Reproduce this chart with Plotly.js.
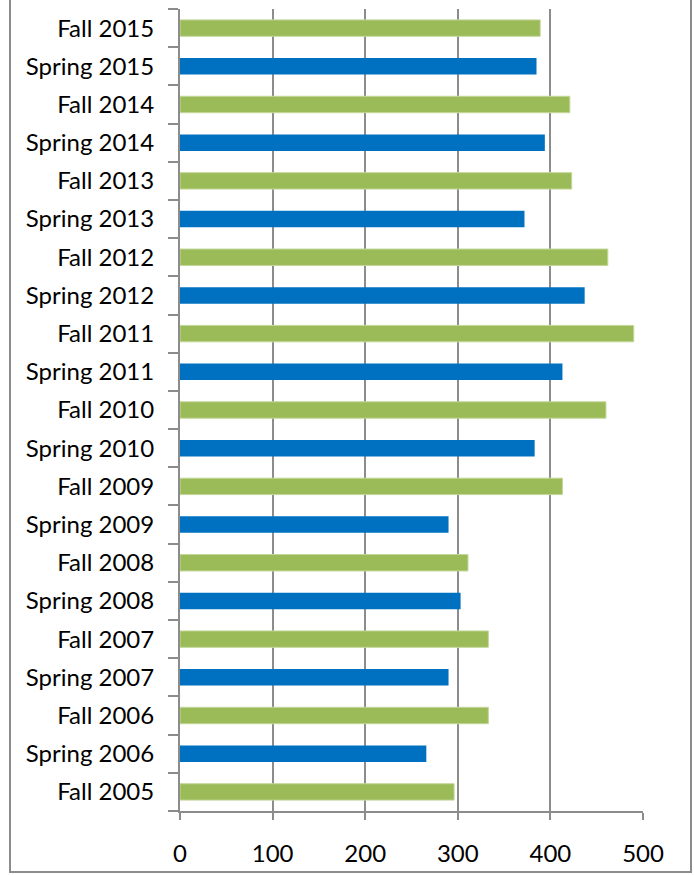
<!DOCTYPE html>
<html>
<head>
<meta charset="utf-8">
<script src="https://cdn.plot.ly/plotly-3.0.1.min.js"></script>
<style>
  html, body { margin: 0; padding: 0; background: #fff; }
  #wrap { position: relative; width: 694px; height: 875px; }
  #chart { position: absolute; left: 0; top: 0; width: 694px; height: 875px; }
  #frame { position: absolute; left: 9px; top: -2px; width: 683px; height: 875px;
           border-left: 2px solid #8c8c8c; border-right: 2px solid #8c8c8c; border-bottom: 2px solid #8c8c8c;
           box-sizing: border-box; pointer-events: none; }
</style>
</head>
<body>
<div id="wrap">
  <div id="chart"></div>
  <div id="frame"></div>
</div>
<script>
// Terms listed from bottom (oldest) to top (newest)
const terms = ["Fall 2005","Spring 2006","Fall 2006","Spring 2007","Fall 2007","Spring 2008",
  "Fall 2008","Spring 2009","Fall 2009","Spring 2010","Fall 2010","Spring 2011","Fall 2011",
  "Spring 2012","Fall 2012","Spring 2013","Fall 2013","Spring 2014","Fall 2014","Spring 2015","Fall 2015"];
const values = [296, 266, 333, 290, 333, 303, 311, 290, 413, 383, 460, 413, 490,
  437, 462, 372, 423, 394, 421, 385, 389];
const xTicks = [0, 100, 200, 300, 400, 500];

const fallColor = "#9BBB59";
const springColor = "#0070C0";

const fallY = [], fallX = [], springY = [], springX = [];
terms.forEach((t, i) => {
  if (t.startsWith("Fall")) { fallY.push(t); fallX.push(values[i]); }
  else { springY.push(t); springX.push(values[i]); }
});

const traces = [
  { type: "bar", orientation: "h", name: "Fall", y: fallY, x: fallX,
    marker: { color: fallColor, line: { color: "#c4d79b", width: 1 } }, hoverinfo: "x+y" },
  { type: "bar", orientation: "h", name: "Spring", y: springY, x: springX,
    marker: { color: springColor, line: { width: 0 } }, hoverinfo: "x+y" }
];

const font = { family: "Lato, 'Open Sans', sans-serif", size: 24, color: "#000" };

const layout = {
  width: 694, height: 875,
  margin: { l: 180, r: 51, t: 9, b: 64, pad: 0 },
  paper_bgcolor: "#fff", plot_bgcolor: "#fff",
  showlegend: false,
  barmode: "overlay",
  bargap: 0.57,
  font: font,
  xaxis: {
    range: [0, 500], tickvals: xTicks, ticktext: xTicks.map(String),
    showgrid: true, gridcolor: "#8c8c8c", gridwidth: 2,
    zeroline: false,
    showline: true, linecolor: "#8c8c8c", linewidth: 2,
    ticks: "outside", ticklen: 7, tickwidth: 2, tickcolor: "#8c8c8c",
    ticklabelstandoff: 13,
    tickfont: font, fixedrange: true
  },
  yaxis: {
    type: "category", categoryorder: "array", categoryarray: terms,
    range: [-0.5, terms.length - 0.5],
    showgrid: false, zeroline: false,
    showline: true, linecolor: "#8c8c8c", linewidth: 2,
    ticks: "outside", ticklen: 10, tickwidth: 2, tickcolor: "#8c8c8c",
    tickson: "boundaries",
    ticklabelstandoff: 19,
    tickfont: font, fixedrange: true
  }
};

Plotly.newPlot("chart", traces, layout, { displayModeBar: false, staticPlot: true });
</script>
</body>
</html>
